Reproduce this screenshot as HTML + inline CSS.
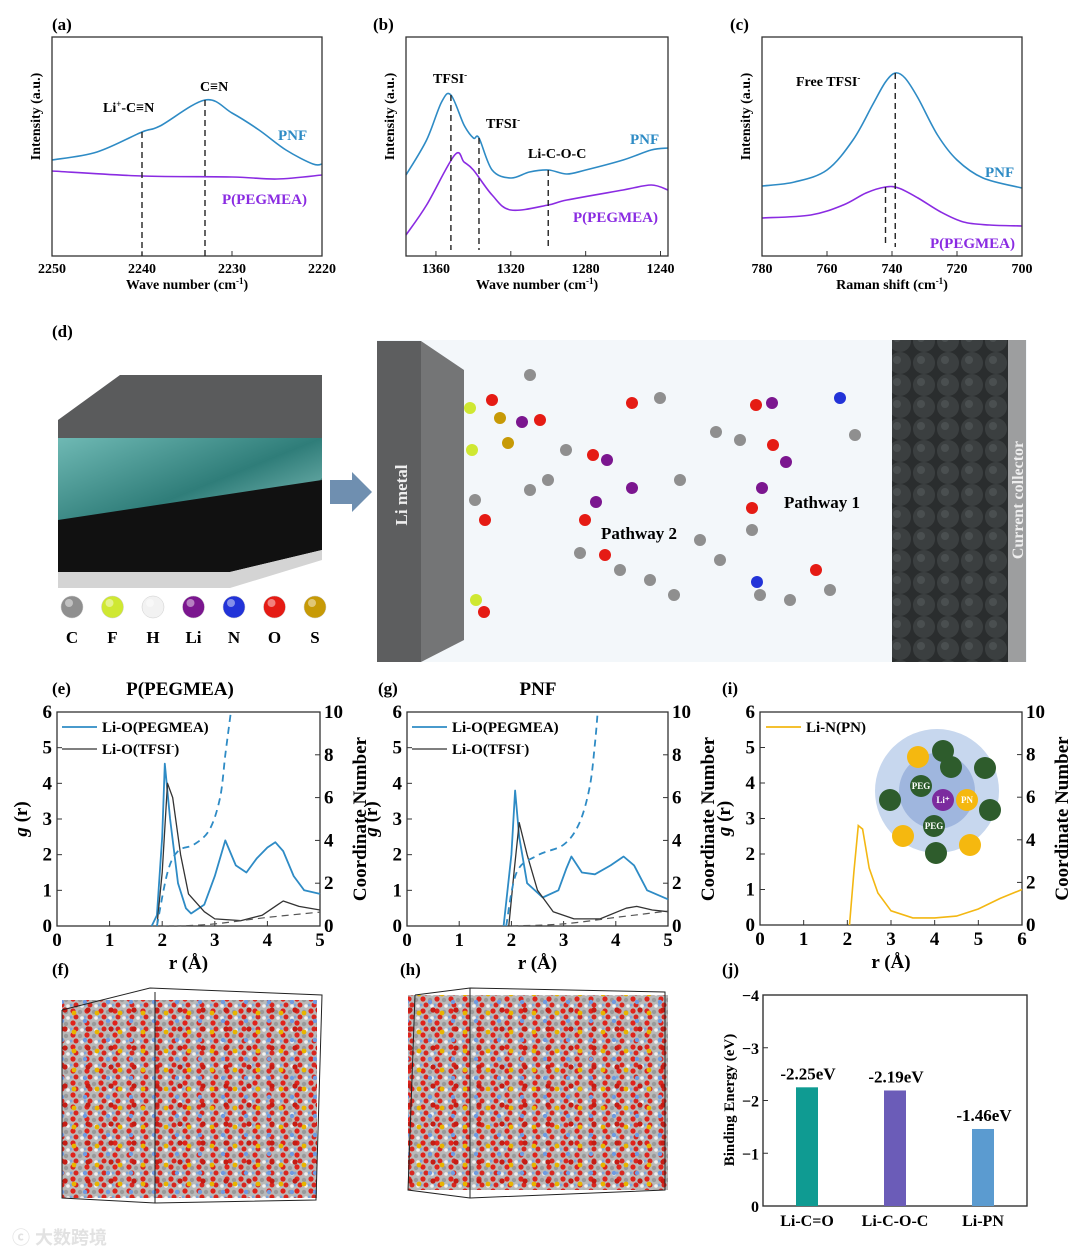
<!DOCTYPE html>
<html><head><meta charset="utf-8"><style>
html,body{margin:0;padding:0;background:#fff}
svg{display:block;font-family:"Liberation Serif",serif;font-weight:bold}
</style></head><body>
<svg id="fig" width="1080" height="1255" viewBox="0 0 1080 1255" xmlns="http://www.w3.org/2000/svg">
<defs>
<pattern id="mol" width="14" height="12" patternUnits="userSpaceOnUse">
<rect width="14" height="12" fill="#b9b9b9"/>
<circle cx="3" cy="3" r="2.6" fill="#e0231c"/><circle cx="10" cy="4" r="2.2" fill="#9a9a9a"/>
<circle cx="6" cy="9" r="2.5" fill="#d8261f"/><circle cx="12" cy="10" r="1.8" fill="#f2f2f2"/>
<circle cx="1" cy="9" r="1.5" fill="#7ea6d9"/>
</pattern>
<pattern id="mol2" width="23" height="19" patternUnits="userSpaceOnUse">
<circle cx="5" cy="6" r="2.4" fill="#e8b400"/><circle cx="16" cy="14" r="2.2" fill="#6f9be0"/><circle cx="19" cy="3" r="2.6" fill="#c51c14"/>
</pattern>
<pattern id="balls" width="24" height="22" patternUnits="userSpaceOnUse">
<rect width="24" height="22" fill="#2a2d2e"/>
<circle cx="12" cy="11" r="11" fill="#3b3f40"/><circle cx="9" cy="8" r="4" fill="#4a4f50"/>
</pattern>
<linearGradient id="teal" x1="0" x2="1" y1="0" y2="1"><stop offset="0" stop-color="#6fb9b4"/><stop offset="0.5" stop-color="#2f7d79"/><stop offset="1" stop-color="#9fd6d1"/></linearGradient>
</defs>

<g font-size="17">
<text x="52" y="30">(a)</text><text x="373" y="30">(b)</text><text x="730" y="30">(c)</text>
<text x="52" y="337">(d)</text>
<text x="52" y="694">(e)</text><text x="378" y="694">(g)</text><text x="722" y="694">(i)</text>
<text x="52" y="975">(f)</text><text x="400" y="975">(h)</text><text x="722" y="975">(j)</text>
</g>
<text x="180" y="695" font-size="19" text-anchor="middle">P(PEGMEA)</text>
<text x="538" y="695" font-size="19" text-anchor="middle">PNF</text>

<g id="charts"></g>

<g>
<polygon points="58,420 120,375 322,375 322,438 58,438" fill="#5a5b5c"/>
<polygon points="58,438 322,438 322,515 58,545" fill="url(#teal)"/>
<polygon points="58,545 322,515 322,478 290,510" fill="#1f4f4e" opacity="0.5"/>
<polygon points="58,520 322,480 322,550 230,572 58,572" fill="#111"/>
<polygon points="58,572 230,572 322,550 322,560 230,588 58,588" fill="#d4d4d4"/>
<polygon points="330,480 352,480 352,472 372,492 352,512 352,504 330,504" fill="#6f8fb0"/>
<rect x="377" y="340" width="650" height="322" fill="#f3f7fa"/>
<rect x="377" y="341" width="44" height="321" fill="#5d5e5f"/>
<polygon points="421,341 464,370 464,640 421,662" fill="#747576"/>
<text transform="translate(407,495) rotate(-90)" font-size="17" fill="#eee" text-anchor="middle">Li metal</text>
<rect x="892" y="340" width="118" height="322" fill="url(#balls)"/>
<rect x="1008" y="340" width="18" height="322" fill="#9d9e9f"/>
<text transform="translate(1023,500) rotate(-90)" font-size="16" fill="#eee" text-anchor="middle">Current collector</text>
<text x="601" y="539" font-size="17">Pathway 2</text>
<text x="784" y="508" font-size="17">Pathway 1</text>
<g id="atoms"></g>
</g>

<g id="atomlegend" font-size="17" text-anchor="middle"></g>

<g>
<rect x="62" y="1000" width="255" height="198" fill="url(#mol)"/><rect x="62" y="1000" width="255" height="198" fill="url(#mol2)"/>
<polyline points="62,1010 150,988 322,995 316,1200 155,1203 62,1198 62,1010" fill="none" stroke="#222" stroke-width="1"/>
<line x1="155" y1="992" x2="155" y2="1203" stroke="#222"/>
</g>
<g>
<rect x="408" y="995" width="260" height="195" fill="url(#mol)"/><rect x="408" y="995" width="260" height="195" fill="url(#mol2)"/>
<polyline points="415,995 470,988 665,992 665,1190 470,1198 408,1190 415,995" fill="none" stroke="#222"/>
<line x1="470" y1="988" x2="470" y2="1198" stroke="#222"/>
</g>
<text x="12" y="1244" font-size="18" fill="#e2e2e2" font-family="'Liberation Sans','Noto Sans CJK SC',sans-serif">ⓒ 大数跨境</text>
</svg>
<script>
const aX=[2250,2245,2240,2238,2233,2230,2227,2224,2221,2220];
const aPNF=[96,104,124,130,156,143,126,106,92,92];
const aPX=[2250,2240,2230,2225,2220];
const aPEG=[85,80,79,77,81];
const aTicks=[2250,2240,2230,2220];
const bX=[1376,1365,1357,1352,1345,1340,1337,1330,1320,1310,1300,1290,1280,1260,1245,1236];
const bPNF=[87,122,160,167,137,124,124,92,84,90,92,88,92,102,112,114];
const bPX=[1376,1365,1350,1345,1340,1330,1320,1300,1290,1260,1245,1236];
const bPEG=[27,57,107,100,92,67,52,57,62,72,77,72];
const bTicks=[1360,1320,1280,1240];
const cX=[780,770,760,752,746,742,739,736,732,726,720,712,700];
const cPNF=[76,80,92,122,157,180,189,184,164,127,102,84,74];
const cPX=[780,765,755,748,742,738,732,725,718,710,700];
const cPEG=[44,47,57,69,75,74,64,50,40,37,36];
const cTicks=[780,760,740,720,700];
const eBx=[1.8,1.9,2.0,2.05,2.15,2.3,2.45,2.55,2.8,3.0,3.2,3.4,3.6,3.8,4.0,4.15,4.3,4.5,4.7,5.0];
const eBy=[0,0.3,2.5,4.55,3.0,1.2,0.5,0.35,0.6,1.4,2.4,1.7,1.5,1.9,2.2,2.35,2.1,1.4,1.0,0.9];
const eKx=[1.9,2.0,2.1,2.2,2.35,2.5,2.8,3.0,3.5,3.9,4.2,4.3,4.6,5.0];
const eKy=[0,1.5,4.0,3.6,2.0,0.9,0.4,0.2,0.15,0.3,0.6,0.7,0.55,0.45];
const eCBx=[1.9,2.1,2.3,2.6,2.9,3.1,3.2,3.3];
const eCBy=[0,2.5,3.5,3.8,4.5,6,8,9.9];
const eCKx=[2.0,2.3,3.0,4.0,5.0];
const eCKy=[0,0,0.1,0.4,0.65];
const gBx=[1.85,2.0,2.07,2.15,2.3,2.6,2.9,3.05,3.15,3.35,3.6,3.9,4.15,4.35,4.6,5.0];
const gBy=[0,2.0,3.8,2.5,1.2,0.8,1.0,1.6,1.95,1.5,1.45,1.7,1.95,1.7,1.0,0.75];
const gKx=[1.95,2.05,2.15,2.3,2.5,2.8,3.2,3.7,4.2,4.4,4.7,5.0];
const gKy=[0,1.5,2.9,2.0,1.0,0.4,0.2,0.2,0.5,0.55,0.45,0.4];
const gCBx=[1.9,2.1,2.5,3.0,3.3,3.5,3.6,3.65];
const gCBy=[0,2.5,3.3,3.8,4.8,6.5,8.5,9.9];
const gCKx=[2.0,3.0,4.0,5.0];
const gCKy=[0,0.1,0.4,0.7];
const iX=[2.05,2.15,2.25,2.35,2.5,2.7,3.0,3.5,4.0,4.5,5.0,5.5,6.0];
const iY=[0,1.5,2.8,2.7,1.6,0.9,0.4,0.2,0.2,0.25,0.45,0.75,1.0];
const jCats=["Li-C=O","Li-C-O-C","Li-PN"];
const jVals=[-2.25,-2.19,-1.46];
const jLabels=["-2.25eV","-2.19eV","-1.46eV"];
const jColors=["#0f9b92","#6b5cb8","#5b9bd0"];

const NS="http://www.w3.org/2000/svg";
const root=document.getElementById('charts');
function el(tag,attrs,parent,text){const e=document.createElementNS(NS,tag);for(const k in attrs)e.setAttribute(k,attrs[k]);if(text!==undefined)e.textContent=text;(parent||root).appendChild(e);return e;}
function lin(d0,d1,r0,r1){return v=>r0+(v-d0)/(d1-d0)*(r1-r0);}
function path(xs,ys,sx,sy){return xs.map((x,i)=>(i?'L':'M')+sx(x).toFixed(1)+','+sy(ys[i]).toFixed(1)).join(' ');}
function smooth(xs,ys,sx,sy){const p=xs.map((x,i)=>[sx(x),sy(ys[i])]);let d='M'+p[0][0]+','+p[0][1];for(let i=0;i<p.length-1;i++){const p0=p[i-1]||p[i],p1=p[i],p2=p[i+1],p3=p[i+2]||p2;d+=' C'+(p1[0]+(p2[0]-p0[0])/6).toFixed(1)+','+(p1[1]+(p2[1]-p0[1])/6).toFixed(1)+' '+(p2[0]-(p3[0]-p1[0])/6).toFixed(1)+','+(p2[1]-(p3[1]-p1[1])/6).toFixed(1)+' '+p2[0].toFixed(1)+','+p2[1].toFixed(1);}return d;}

function spectrum(x0,x1,L,R,T,B,base,ticks,xs1,ys1,xs2,ys2,xlabel,name){
  const g=el('g',{});
  
  
  const sx=lin(x0,x1,L,R), sy=v=>base-v;
  const p1=el('path',{d:smooth(xs1,ys1,sx,sy),fill:'none',stroke:'#2e8bc5','stroke-width':1.6},g);
  
  
  const p2=el('path',{d:smooth(xs2,ys2,sx,sy),fill:'none',stroke:'#8a2be2','stroke-width':1.6},g);
  
  
  el('rect',{x:L,y:T,width:R-L,height:B-T,fill:'none',stroke:'#333','stroke-width':1.3},g);
  ticks.forEach(t=>{el('line',{x1:sx(t),x2:sx(t),y1:B,y2:B-5,stroke:'#333'},g);
    const tl=el('text',{x:sx(t),y:B+17,'font-size':14,'text-anchor':'middle'},g,t);
    
    });
  const xl=el('text',{x:(L+R)/2,y:B+33,'font-size':14,'text-anchor':'middle'},g);
  xl.innerHTML=xlabel+' (cm<tspan dy="-5" font-size="9">-1</tspan><tspan dy="5">)</tspan>';
  
  
  const yl=el('text',{transform:`translate(${L-12},${(T+B)/2-30}) rotate(-90)`,'font-size':14,'text-anchor':'middle'},g,'Intensity (a.u.)');
  
  
  return {g,sx,sy};
}
function vdash(g,x,y1,y2){el('line',{x1:x,x2:x,y1:y1,y2:y2,stroke:'#222','stroke-width':1.4,'stroke-dasharray':'6,4'},g);}

let A=spectrum(2250,2220,52,322,37,256,256,aTicks,aX,aPNF,aPX,aPEG,'Wave number','panel-a-ftir');
vdash(A.g,A.sx(2240),132,256);vdash(A.g,A.sx(2233),100,256);
el('text',{x:103,y:112,'font-size':14},A.g).innerHTML='Li<tspan dy="-5" font-size="9">+</tspan><tspan dy="5">-C≡N</tspan>';
el('text',{x:200,y:91,'font-size':14},A.g,'C≡N');
el('text',{x:278,y:140,'font-size':15,fill:'#2e8bc5'},A.g,'PNF');
el('text',{x:222,y:204,'font-size':15,fill:'#8a2be2'},A.g,'P(PEGMEA)');

let Bp=spectrum(1376,1236,406,668,37,256,262,bTicks,bX,bPNF,bPX,bPEG,'Wave number','panel-b-ftir');
vdash(Bp.g,Bp.sx(1352),95,250);vdash(Bp.g,Bp.sx(1337),138,250);vdash(Bp.g,Bp.sx(1300),170,250);
el('text',{x:433,y:83,'font-size':14},Bp.g).innerHTML='TFSI<tspan dy="-5" font-size="9">-</tspan>';
el('text',{x:486,y:128,'font-size':14},Bp.g).innerHTML='TFSI<tspan dy="-5" font-size="9">-</tspan>';
el('text',{x:528,y:158,'font-size':14},Bp.g,'Li-C-O-C');
el('text',{x:630,y:144,'font-size':15,fill:'#2e8bc5'},Bp.g,'PNF');
el('text',{x:573,y:222,'font-size':15,fill:'#8a2be2'},Bp.g,'P(PEGMEA)');

let C=spectrum(780,700,762,1022,37,256,262,cTicks,cX,cPNF,cPX,cPEG,'Raman shift','panel-c-raman');
vdash(C.g,C.sx(739),73,247);vdash(C.g,C.sx(742),187,247);
el('text',{x:796,y:86,'font-size':14},C.g).innerHTML='Free TFSI<tspan dy="-5" font-size="9">-</tspan>';
el('text',{x:985,y:177,'font-size':15,fill:'#2e8bc5'},C.g,'PNF');
el('text',{x:930,y:248,'font-size':15,fill:'#8a2be2'},C.g,'P(PEGMEA)');

function rdf(L,R,T,B,xmax,name,leftTitle){
  const g=el('g',{});
  
  
  const sx=lin(0,xmax,L,R), sy=lin(0,6,B,T), sc=lin(0,10,B,T);
  el('rect',{x:L,y:T,width:R-L,height:B-T,fill:'none',stroke:'#333','stroke-width':1.3},g);
  for(let i=0;i<=xmax;i++){el('line',{x1:sx(i),x2:sx(i),y1:B,y2:B-5,stroke:'#333'},g);
    const t=el('text',{x:sx(i),y:B+20,'font-size':19,'text-anchor':'middle'},g,i);
    
    }
  for(let i=0;i<=6;i++){el('line',{x1:L,x2:L+5,y1:sy(i),y2:sy(i),stroke:'#333'},g);
    const t=el('text',{x:L-5,y:sy(i)+6,'font-size':19,'text-anchor':'end'},g,i);
    
    }
  for(let i=0;i<=10;i+=2){el('line',{x1:R,x2:R-5,y1:sc(i),y2:sc(i),stroke:'#333'},g);
    const t=el('text',{x:R+4,y:sc(i)+6,'font-size':19},g,i);
    
    }
  const xt=el('text',{x:(L+R)/2,y:B+43,'font-size':19,'text-anchor':'middle'},g,'r (Å)');
  
  
  if(leftTitle){const yt=el('text',{transform:`translate(${L-30},${(T+B)/2}) rotate(-90)`,'font-size':19,'text-anchor':'middle'},g);
    yt.innerHTML='<tspan font-style="italic">g</tspan> (r)';
    
    }
  const rt=el('text',{transform:`translate(${R+46},${(T+B)/2}) rotate(-90)`,'font-size':19,'text-anchor':'middle'},g,'Coordinate Number');
  
  
  return {g,sx,sy,sc};
}
function rdfLines(P,bx,by,kx,ky,cbx,cby,ckx,cky){
  el('path',{d:path(bx,by,P.sx,P.sy),fill:'none',stroke:'#2e8bc5','stroke-width':1.8,'stroke-linejoin':'round'},P.g);
  el('path',{d:path(kx,ky,P.sx,P.sy),fill:'none',stroke:'#333','stroke-width':1.3,'stroke-linejoin':'round'},P.g);
  el('path',{d:smooth(cbx,cby,P.sx,P.sc),fill:'none',stroke:'#2e8bc5','stroke-width':1.8,'stroke-dasharray':'7,5'},P.g);
  el('path',{d:smooth(ckx,cky,P.sx,P.sc),fill:'none',stroke:'#555','stroke-width':1.2,'stroke-dasharray':'7,5'},P.g);
  const L=P.sx(0);
  el('line',{x1:L+5,x2:L+40,y1:727,y2:727,stroke:'#2e8bc5','stroke-width':1.8},P.g);
  el('text',{x:L+45,y:732,'font-size':15},P.g,'Li-O(PEGMEA)');
  el('line',{x1:L+5,x2:L+40,y1:749,y2:749,stroke:'#333','stroke-width':1.3},P.g);
  el('text',{x:L+45,y:754,'font-size':15},P.g).innerHTML='Li-O(TFSI<tspan dy="-5" font-size="9">-</tspan><tspan dy="5">)</tspan>';
}
const E=rdf(57,320,712,926,5,'panel-e-rdf',true);
rdfLines(E,eBx,eBy,eKx,eKy,eCBx,eCBy,eCKx,eCKy);
const G=rdf(407,668,712,926,5,'panel-g-rdf',true);
rdfLines(G,gBx,gBy,gKx,gKy,gCBx,gCBy,gCKx,gCKy);
const I=rdf(760,1022,712,925,6,'panel-i-rdf',true);
el('path',{d:path(iX,iY,I.sx,I.sy),fill:'none',stroke:'#f3b712','stroke-width':1.6},I.g);
el('line',{x1:766,x2:801,y1:727,y2:727,stroke:'#f3b712','stroke-width':1.8},I.g);
el('text',{x:806,y:732,'font-size':15},I.g,'Li-N(PN)');
const ins=el('g',{},I.g);


el('circle',{cx:937,cy:791,r:62,fill:'#c7d7ee'},ins);
el('circle',{cx:937,cy:791,r:38,fill:'#9fb6de'},ins);
[[921,786,'#2e5c2c','PEG'],[934,826,'#2e5c2c','PEG'],[943,800,'#7b2b9e','Li⁺'],[967,800,'#f5b80f','PN']].forEach(c=>{el('circle',{cx:c[0],cy:c[1],r:11,fill:c[2]},ins);el('text',{x:c[0],y:c[1]+3,'font-size':9,'text-anchor':'middle',fill:'#fff'},ins,c[3]);});
[[943,751],[985,768],[890,800],[990,810],[936,853],[951,767]].forEach(c=>el('circle',{cx:c[0],cy:c[1],r:11,fill:'#2e5c2c'},ins));
[[918,757],[903,836],[970,845]].forEach(c=>el('circle',{cx:c[0],cy:c[1],r:11,fill:'#f5b80f'},ins));

const J=el('g',{});


const jx=lin(-0.5,2.5,763,1027), jy=lin(0,-4,1206,995);
el('rect',{x:763,y:995,width:264,height:211,fill:'none',stroke:'#333','stroke-width':1.4},J);
[0,-1,-2,-3,-4].forEach(v=>{el('line',{x1:763,x2:768,y1:jy(v),y2:jy(v),stroke:'#333'},J);
  const t=el('text',{x:759,y:jy(v)+6,'font-size':16,'text-anchor':'end'},J,v===0?'0':'−'+Math.abs(v));
  
  });
jCats.forEach((c,i)=>{
  const b=el('rect',{x:jx(i)-11,y:jy(jVals[i]),width:22,height:jy(0)-jy(jVals[i]),fill:jColors[i]},J);
  
  
  el('text',{x:jx(i)+1,y:jy(jVals[i])-8,'font-size':17,'text-anchor':'middle'},J,jLabels[i]);
  const t=el('text',{x:jx(i),y:1226,'font-size':16,'text-anchor':'middle'},J,c);
  
  
});
const jt=el('text',{transform:'translate(734,1100) rotate(-90)','font-size':15,'text-anchor':'middle'},J,'Binding Energy (eV)');



const AL=document.getElementById('atomlegend');
[['C','#8f8f8f'],['F','#cfe832'],['H','#f2f2f2'],['Li','#7b168f'],['N','#2233d8'],['O','#e51b14'],['S','#c79a06']].forEach((a,i)=>{
  const x=72+i*40.5;
  el('circle',{cx:x,cy:607,r:11,fill:a[1],stroke:'#ccc','stroke-width':0.5},AL);
  el('circle',{cx:x-3,cy:603,r:4,fill:'#fff',opacity:0.45},AL);
  el('text',{x:x,y:643},AL,a[0]);
});
const AT=document.getElementById('atoms');
[[492,400,'#e51b14'],[500,418,'#c79a06'],[508,443,'#c79a06'],[470,408,'#cfe832'],[472,450,'#cfe832'],[522,422,'#7b168f'],[540,420,'#e51b14'],[566,450,'#8f8f8f'],[593,455,'#e51b14'],[607,460,'#7b168f'],[632,488,'#7b168f'],[596,502,'#7b168f'],[585,520,'#e51b14'],[580,553,'#8f8f8f'],[632,403,'#e51b14'],[660,398,'#8f8f8f'],[548,480,'#8f8f8f'],[530,490,'#8f8f8f'],[756,405,'#e51b14'],[772,403,'#7b168f'],[773,445,'#e51b14'],[786,462,'#7b168f'],[762,488,'#7b168f'],[752,508,'#e51b14'],[752,530,'#8f8f8f'],[716,432,'#8f8f8f'],[740,440,'#8f8f8f'],[816,570,'#e51b14'],[830,590,'#8f8f8f'],[475,500,'#8f8f8f'],[485,520,'#e51b14'],[476,600,'#cfe832'],[484,612,'#e51b14'],[650,580,'#8f8f8f'],[674,595,'#8f8f8f'],[700,540,'#8f8f8f'],[720,560,'#8f8f8f'],[760,595,'#8f8f8f'],[790,600,'#8f8f8f'],[855,435,'#8f8f8f'],[840,398,'#2233d8'],[757,582,'#2233d8'],[530,375,'#8f8f8f'],[605,555,'#e51b14'],[620,570,'#8f8f8f'],[680,480,'#8f8f8f']].forEach(a=>el('circle',{cx:a[0],cy:a[1],r:6,fill:a[2]},AT));
</script>
</body></html>
